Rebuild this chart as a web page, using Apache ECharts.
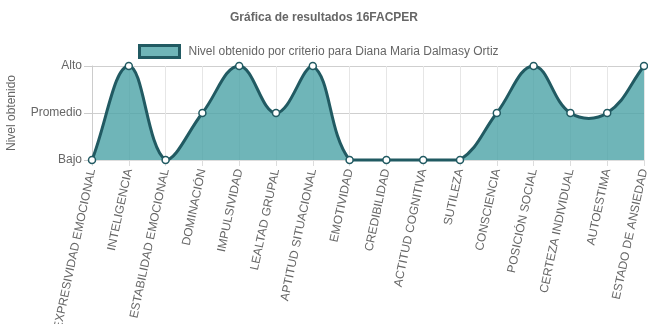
<!DOCTYPE html>
<html><head><meta charset="utf-8">
<script src="https://cdn.jsdelivr.net/npm/echarts@6/dist/echarts.min.js"></script>
<style>html,body{margin:0;padding:0;background:#fff}#c{width:648px;height:324px}</style>
</head><body><div id="c"></div>
<script>
const categories = ['EXPRESIVIDAD EMOCIONAL','INTELIGENCIA','ESTABILIDAD EMOCIONAL','DOMINACIÓN','IMPULSIVIDAD','LEALTAD GRUPAL','APTITUD SITUACIONAL','EMOTIVIDAD','CREDIBILIDAD','ACTITUD COGNITIVA','SUTILEZA','CONSCIENCIA','POSICIÓN SOCIAL','CERTEZA INDIVIDUAL','AUTOESTIMA','ESTADO DE ANSIEDAD'];
const levels = [0,2,0,1,2,1,2,0,0,0,0,1,2,1,1,2];
const levelLabels = ['Bajo','Promedio','Alto'];
const seriesName = 'Nivel obtenido por criterio para Diana Maria Dalmasy Ortiz';
const chart = echarts.init(document.getElementById('c'));
const txt = '#666';
const lineColor = '#215a62';
const fillColor = 'rgba(75,162,166,0.8)';

function renderCurve(params, api) {
  if (params.dataIndex !== 0) return null;
  const cs = params.coordSys;
  const pts = levels.map((v, i) => api.coord([i, v]));
  const t = 0.4;
  const clampX = x => Math.max(cs.x, Math.min(cs.x + cs.width, x));
  const clampY = y => Math.max(cs.y, Math.min(cs.y + cs.height, y));
  const cps = pts.map((cur, i) => {
    const prev = pts[i - 1] || cur, next = pts[i + 1] || cur;
    const d01 = Math.hypot(cur[0] - prev[0], cur[1] - prev[1]);
    const d12 = Math.hypot(next[0] - cur[0], next[1] - cur[1]);
    let s01 = d01 / (d01 + d12), s12 = d12 / (d01 + d12);
    if (isNaN(s01)) s01 = 0; if (isNaN(s12)) s12 = 0;
    const fa = t * s01, fb = t * s12;
    return {
      p: [clampX(cur[0] - fa * (next[0] - prev[0])), clampY(cur[1] - fa * (next[1] - prev[1]))],
      n: [clampX(cur[0] + fb * (next[0] - prev[0])), clampY(cur[1] + fb * (next[1] - prev[1]))]
    };
  });
  let d = 'M' + pts[0][0] + ' ' + pts[0][1];
  for (let i = 1; i < pts.length; i++) {
    d += ' C' + cps[i - 1].n[0] + ' ' + cps[i - 1].n[1] + ' ' + cps[i].p[0] + ' ' + cps[i].p[1] + ' ' + pts[i][0] + ' ' + pts[i][1];
  }
  const bottom = cs.y + cs.height;
  const area = d + ' L' + pts[pts.length - 1][0] + ' ' + bottom + ' L' + pts[0][0] + ' ' + bottom + ' Z';
  return {
    type: 'group',
    children: [
      { type: 'path', shape: { pathData: area }, style: { fill: fillColor, stroke: null } },
      { type: 'path', shape: { pathData: d }, style: { fill: null, stroke: lineColor, lineWidth: 3 } }
    ]
  };
}

chart.setOption({
  animation:false,
  textStyle:{fontFamily:'Liberation Sans, Arial, sans-serif'},
  title:{text:'Gráfica de resultados 16FACPER',left:'center',top:7,textStyle:{fontSize:12,fontWeight:'bold',color:txt,fontFamily:'Liberation Sans, Arial, sans-serif'}},
  legend:{top:39,left:133,itemWidth:40,itemHeight:12,itemGap:8,
    textStyle:{fontSize:12,color:txt,padding:[0,0,0,4]},
    data:[{name:seriesName,icon:'rect',itemStyle:{color:'#6fb5b8',borderColor:lineColor,borderWidth:3}}]},
  grid:{left:92,right:4,top:66,bottom:164,containLabel:false,outerBoundsMode:'none'},
  xAxis:{type:'category',data:categories,boundaryGap:false,
    axisLine:{show:true,lineStyle:{color:'#ddd'}},
    axisTick:{show:true,alignWithLabel:true,length:6,lineStyle:{color:'#ddd'}},
    splitLine:{show:true,lineStyle:{color:'#e6e6e6'}},
    axisLabel:{rotate:78,interval:0,fontSize:12,color:txt,margin:9}},
  yAxis:{type:'value',min:0,max:2,interval:1,name:'Nivel obtenido',nameLocation:'middle',nameGap:74,
    nameTextStyle:{fontSize:12,color:txt},
    axisLine:{show:true,lineStyle:{color:'#ccc'}},
    axisTick:{show:true,length:8,lineStyle:{color:'#ccc'}},
    splitLine:{show:true,lineStyle:{color:'#cfcfcf'}},
    axisLabel:{fontSize:12,color:txt,margin:10,formatter:v=>levelLabels[v]}},
  series:[
    {name:seriesName,type:'custom',renderItem:renderCurve,
      data:levels.map((v,i)=>[i,v]),encode:{x:0,y:1},z:2,
      itemStyle:{color:'#6fb5b8',borderColor:lineColor}},
    {name:'puntos',type:'line',data:levels,z:3,
      lineStyle:{width:0,opacity:0},
      itemStyle:{color:'#fff',borderColor:lineColor,borderWidth:1.5},
      symbol:'circle',symbolSize:7,showAllSymbol:true}
  ]
});
</script></body></html>
